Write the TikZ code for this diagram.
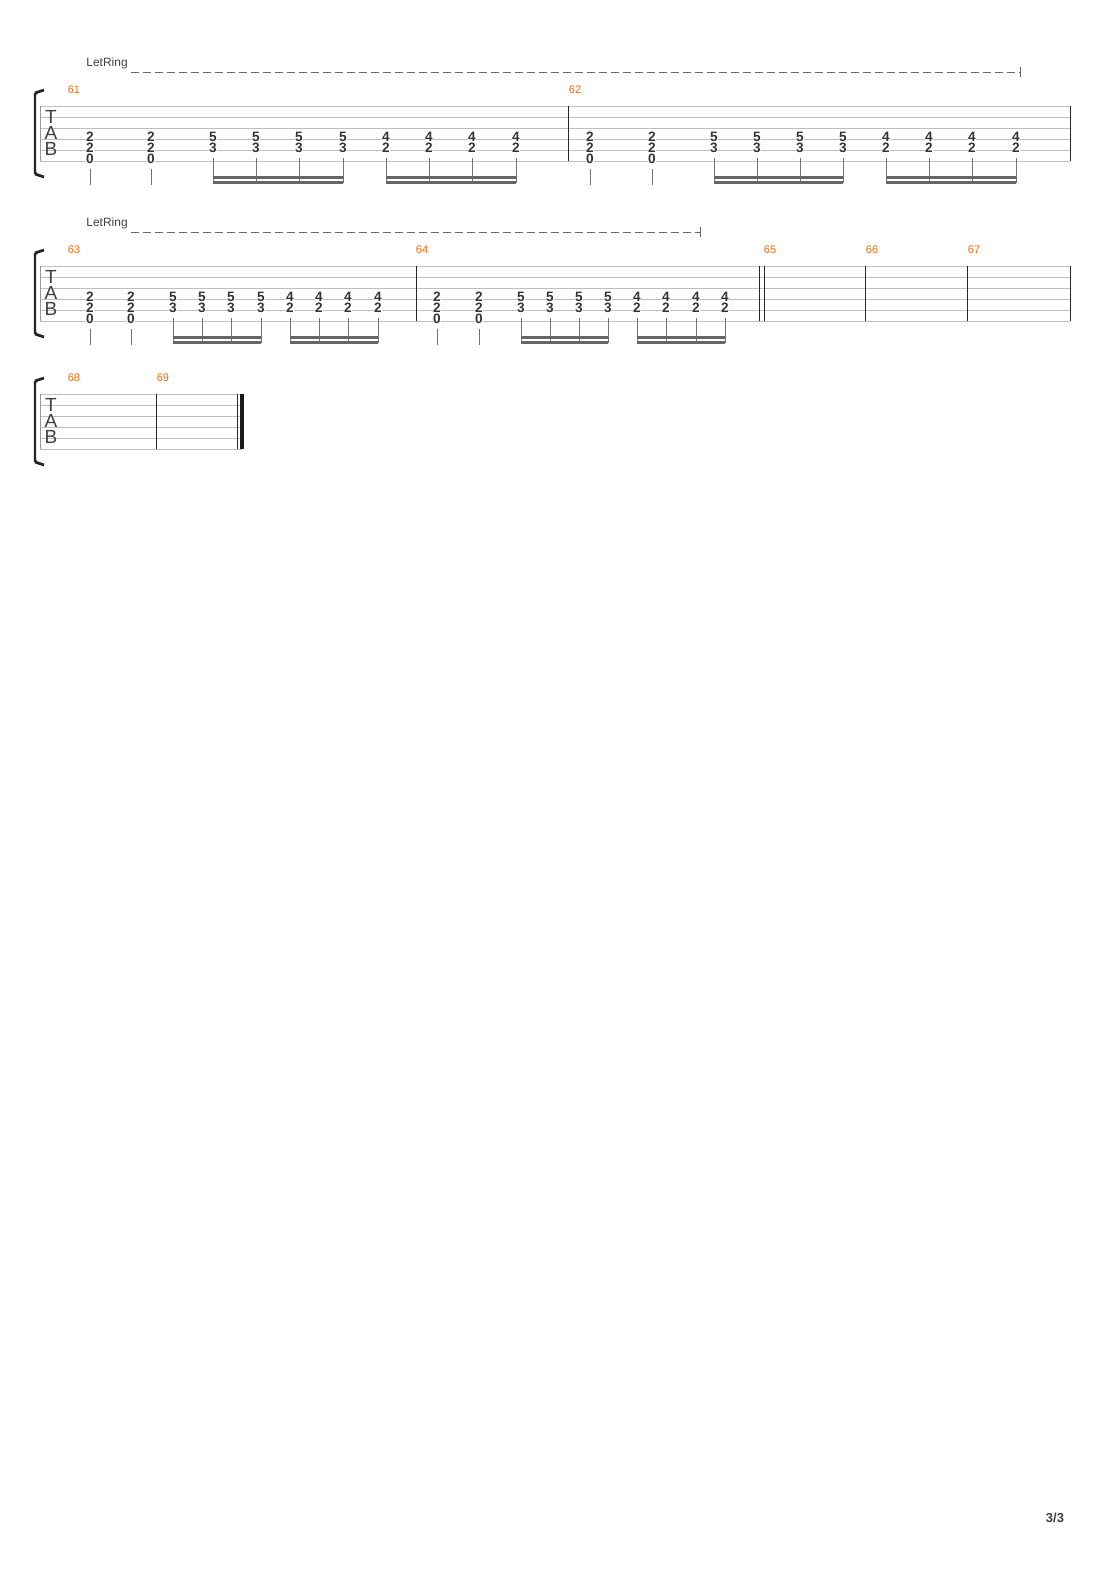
\documentclass[tikz,border=0pt]{standalone}
\usepackage{fontspec}
\setmainfont{Liberation Sans}
\begin{document}
\begin{tikzpicture}[x=0.5pt,y=-0.5pt,
  staffline/.style={draw=black!25,line width=0.5pt},
  bar/.style={draw=black!85,line width=0.5pt},
  fret/.style={font=\fontsize{6.8}{7}\selectfont\bfseries,text=black!80,inner sep=0pt,fill=white},
  mnum/.style={font=\fontsize{5.5}{6}\selectfont,text=orange!80!red,inner sep=0pt},
  stem/.style={draw=black!55,line width=0.5pt},
  beam/.style={draw=black!60,line width=1.5pt},
  letring/.style={font=\fontsize{6}{7}\selectfont,text=black!75,inner sep=0pt},
  tabl/.style={font=\fontsize{9.5}{10}\selectfont,text=black!75,inner sep=0pt}]
\useasboundingbox (0,0) rectangle (1110,1570);
\newcommand\mystaff[3]{%
  \foreach \k in {0,...,5}{\draw[staffline] (#2,#1+11*\k) -- (#3,#1+11*\k);}
  \draw[line width=1.2pt,black!85] (37,#1-13) -- (35,#1-12) -- (35,#1+67) -- (37,#1+68);
  \draw[line width=1.4pt,black!85] (35,#1-13) -- (44,#1-16);
  \draw[line width=1.4pt,black!85] (35,#1+68) -- (44,#1+71);
  \draw[bar,draw=black!40] (40,#1) -- (40,#1+55);
  \node[tabl] (T#1) at (51,#1+11) {T};
  \node[tabl] (A#1) at (51,#1+27) {A};
  \node[tabl] (B#1) at (51,#1+43) {B};}
\newcommand\barl[2]{\draw[bar] (#2,#1) -- (#2,#1+55);}
\newcommand\chA[2]{%
  \node[fret] (a#1x#2) at (#2,#1+31) {2};
  \node[fret] (b#1x#2) at (#2,#1+42) {2};
  \node[fret] (c#1x#2) at (#2,#1+53) {0};
  \draw[stem] (c#1x#2.south) ++(0,5) -- (#2,#1+79);}
\newcommand\chB[4]{%
  \node[fret] (d#1x#2) at (#2,#1+31) {#3};
  \node[fret] (e#1x#2) at (#2,#1+42) {#4};
  \draw[stem] (e#1x#2.south) ++(0,5) -- (#2,#1+77);}
\newcommand\beamg[3]{\draw[beam] (#2,#1+71) -- (#3,#1+71); \draw[beam] (#2,#1+76) -- (#3,#1+76);}
% ---------- system 1
\node[letring,anchor=west] (lr1) at (86,63) {LetRing};
\coordinate (lr1e) at (1020,72);
\draw[dashed,black!60,dash pattern=on 4pt off 2pt,line width=0.5pt] (lr1.east) ++(3,9) -- (lr1e);
\draw[black!60,line width=0.5pt] (1020,67) -- (1020,77);
\mystaff{106}{40}{1070}
\node[mnum] (m61) at (74,90) {61};
\node[mnum] (m62) at (575,90) {62};
\barl{106}{568}\barl{106}{1070}
\foreach \x in {90,151,590,652}{\chA{106}{\x}}
\foreach \x in {213,256,299,343,714,757,800,843}{\chB{106}{\x}{5}{3}}
\foreach \x in {386,429,472,516,886,929,972,1016}{\chB{106}{\x}{4}{2}}
\beamg{106}{213}{343}\beamg{106}{386}{516}\beamg{106}{714}{843}\beamg{106}{886}{1016}
% ---------- system 2
\node[letring,anchor=west] (lr2) at (86,223) {LetRing};
\coordinate (lr2e) at (700,232);
\draw[dashed,black!60,dash pattern=on 4pt off 2pt,line width=0.5pt] (lr2.east) ++(3,9) -- (lr2e);
\draw[black!60,line width=0.5pt] (700,227) -- (700,237);
\mystaff{266}{40}{1070}
\node[mnum] (m63) at (74,250) {63};
\node[mnum] (m64) at (422,250) {64};
\node[mnum] (m65) at (770,250) {65};
\node[mnum] (m66) at (872,250) {66};
\node[mnum] (m67) at (974,250) {67};
\foreach \x in {416,759,764,865,967,1070}{\barl{266}{\x}}
\foreach \x in {90,131,437,479}{\chA{266}{\x}}
\foreach \x in {173,202,231,261,521,550,579,608}{\chB{266}{\x}{5}{3}}
\foreach \x in {290,319,348,378,637,666,696,725}{\chB{266}{\x}{4}{2}}
\beamg{266}{173}{261}\beamg{266}{290}{378}\beamg{266}{521}{608}\beamg{266}{637}{725}
% ---------- system 3
\mystaff{394}{40}{242}
\node[mnum] (m68) at (74,378) {68};
\node[mnum] (m69) at (163,378) {69};
\barl{394}{156}\barl{394}{237}
\draw[black!90,line width=2pt] (242,394) -- (242,449);
\node[font=\fontsize{6.5}{7}\selectfont\bfseries,text=black!75,inner sep=0pt] (pg) at (1055,1518) {3/3};
\end{tikzpicture}
\end{document}
